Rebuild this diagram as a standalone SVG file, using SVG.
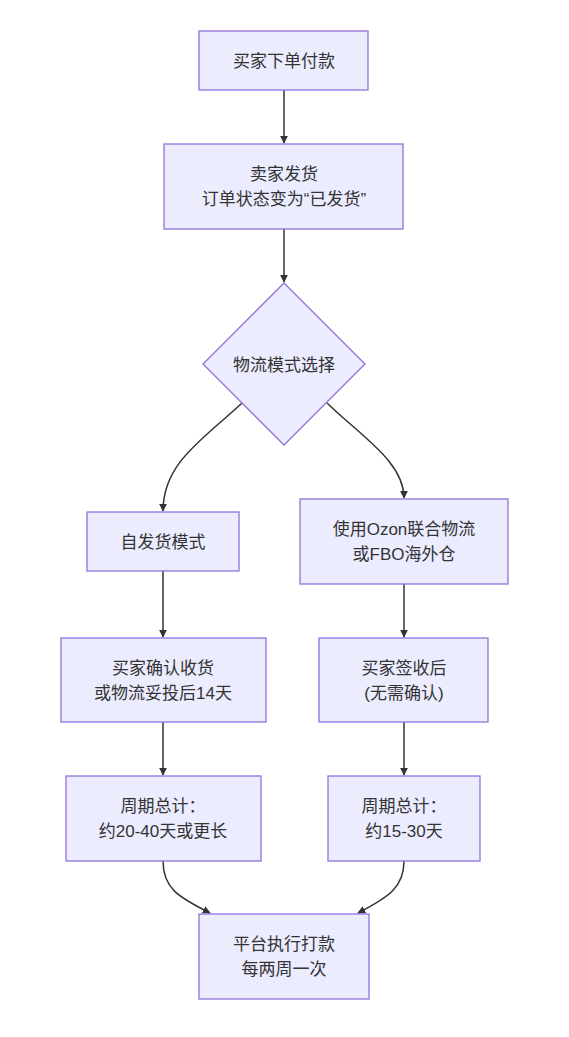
<svg xmlns="http://www.w3.org/2000/svg" width="569" height="1037" viewBox="0 0 569 1037">
<defs>
<marker id="arr" viewBox="0 0 10 10" refX="9" refY="5" markerWidth="8" markerHeight="8" markerUnits="userSpaceOnUse" orient="auto">
<path d="M0,0 L10,5 L0,10 z" fill="#333"/>
</marker>
<style>
.n{fill:#ECECFF;stroke:#9370DB;stroke-width:1.3}
.t{font-family:"Liberation Sans","Noto Sans CJK SC",sans-serif;font-size:17px;fill:#333;text-anchor:middle;dominant-baseline:central}
.e{fill:none;stroke:#333;stroke-width:1.5;marker-end:url(#arr)}
</style>
</defs>
<rect width="569" height="1037" fill="#fff"/>
<g id="edges">
<path class="e" d="M284,90 L284,143"/>
<path class="e" d="M284,229 L284,282"/>
<path class="e" d="M242,403 C205,438 163,462 163,511"/>
<path class="e" d="M327,403 C362,437 404,462 404,498"/>
<path class="e" d="M163,571 L163,637"/>
<path class="e" d="M404,584 L404,637"/>
<path class="e" d="M163,722 L163,775"/>
<path class="e" d="M404,722 L404,775"/>
<path class="e" d="M163,861 C163,888 178,897 210,913"/>
<path class="e" d="M404,861 C404,887 389,897 358,913"/>
</g>
<g id="n1"><rect class="n" x="199" y="31" width="169" height="59"/><text class="t" x="284" y="61">买家下单付款</text></g>
<g id="n2"><rect class="n" x="164" y="144" width="239" height="85"/><text class="t" x="284" y="174.5">卖家发货</text><text class="t" x="284" y="199.5">订单状态变为“已发货”</text></g>
<g id="n3"><polygon class="n" points="284,283 365,364 284,445 203,364"/><text class="t" x="284" y="365">物流模式选择</text></g>
<g id="n4"><rect class="n" x="87" y="512" width="152" height="59"/><text class="t" x="163" y="542">自发货模式</text></g>
<g id="n5"><rect class="n" x="300" y="499" width="208" height="85"/><text class="t" x="404" y="529.5">使用Ozon联合物流</text><text class="t" x="404" y="554.5">或FBO海外仓</text></g>
<g id="n6"><rect class="n" x="61" y="638" width="205" height="84"/><text class="t" x="163" y="668">买家确认收货</text><text class="t" x="163" y="693">或物流妥投后14天</text></g>
<g id="n7"><rect class="n" x="319" y="638" width="169" height="84"/><text class="t" x="404" y="668">买家签收后</text><text class="t" x="404" y="693">(无需确认)</text></g>
<g id="n8"><rect class="n" x="66" y="776" width="195" height="85"/><text class="t" x="163" y="806.5">周期总计：</text><text class="t" x="163" y="831.5">约20-40天或更长</text></g>
<g id="n9"><rect class="n" x="328" y="776" width="152" height="85"/><text class="t" x="404" y="806.5">周期总计：</text><text class="t" x="404" y="831.5">约15-30天</text></g>
<g id="n10"><rect class="n" x="199" y="914" width="170" height="85"/><text class="t" x="284" y="944.5">平台执行打款</text><text class="t" x="284" y="969.5">每两周一次</text></g>
</svg>
